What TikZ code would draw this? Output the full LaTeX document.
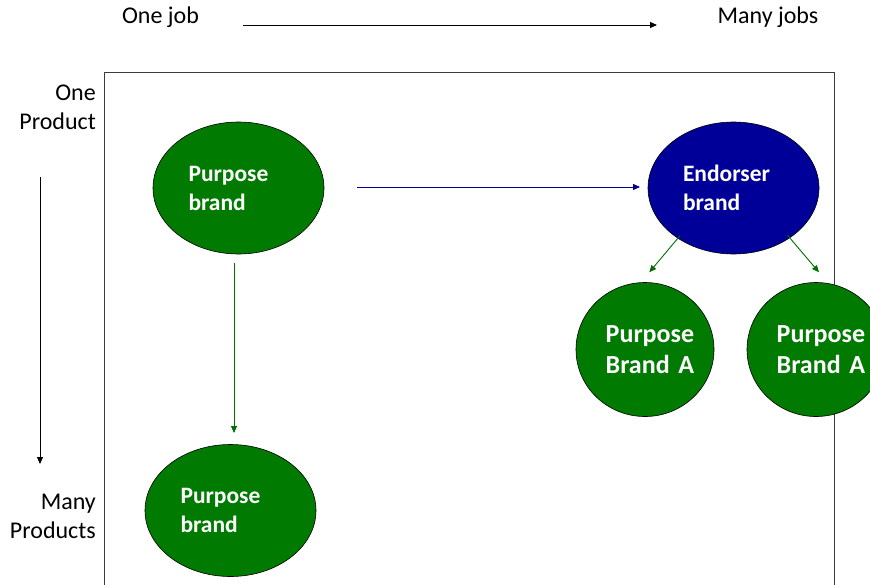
\documentclass[tikz,border=0pt]{standalone}
\usepackage{fontspec}
\setmainfont{Carlito}
\usetikzlibrary{arrows.meta,shapes.geometric,calc}
\definecolor{bgreen}{RGB}{0,122,0}
\definecolor{bblue}{RGB}{0,0,153}
\definecolor{agreen}{RGB}{0,110,0}
\definecolor{ablue}{RGB}{0,0,140}
\definecolor{framec}{RGB}{60,60,60}
\begin{document}
\begin{tikzpicture}[x=1pt,y=-1pt,
  brand/.style={ellipse,draw=black,line width=0.6pt,fill=bgreen,text=white,
    font=\bfseries\fontsize{23.5}{29}\selectfont,minimum width=171pt,minimum height=132pt,
    inner sep=0pt,text width=100pt,align=left},
  smallbrand/.style={ellipse,draw=black,line width=0.6pt,fill=bgreen,text=white,
    font=\bfseries\fontsize{26}{31}\selectfont,minimum width=138pt,minimum height=134pt,
    inner sep=0pt,text width=78.6pt,align=left},
  lab/.style={inner sep=0pt,font=\fontsize{24}{29}\selectfont},
  karrow/.style={draw=black,line width=0.9pt,-{Triangle[length=7pt,width=6pt]}},
  garrow/.style={draw=agreen,line width=0.9pt,-{Triangle[length=7pt,width=6pt]}},
  barrow/.style={draw=ablue,line width=0.9pt,-{Triangle[length=7pt,width=6pt]}}]
\clip (0,0) rectangle (870,584);
% frame
\draw[framec,line width=0.9pt] (104,72) rectangle (834,600);
% axis labels
\node[lab] (onejob) at (160.5,17) {One job};
\node[lab] (manyjobs) at (768,17) {Many jobs};
\node[lab,align=right,anchor=east] (oneprod) at (96,107.5) {One\\Product};
\node[lab,align=right,anchor=east] (manyprod) at (96,516.5) {Many\\Products};
\coordinate (tA) at (243,25);
\coordinate (tB) at (657,25);
\coordinate (lA) at (40,177);
\coordinate (lB) at (40,464);
\draw[karrow] (tA) -- (tB);
\draw[karrow] (lA) -- (lB);
% brands
\node[brand] (p1) at (238.5,188) {Purpose\\brand};
\node[brand,fill=bblue,text width=101pt] (e) at (733.5,188) {Endorser\\brand};
\node[brand] (p2) at (230.5,510.5) {Purpose\\brand};
\node[smallbrand] (c1) at (645,349.5) {Purpose\\\mbox{Brand A}};
\node[smallbrand] (c2) at (816,349.5) {Purpose\\\mbox{Brand A}};
% connectors
\draw[barrow] ($(p1.center)+(118.5,-1)$) -- ($(e.center)+(-93.5,-1)$);
\draw[garrow] ($(p1.center)+(-4.5,75)$) -- ($(p2.center)+(3.5,-77.5)$);
\draw[garrow] ($(e.center)+(-53.5,47.7)$) -- ($(c1.center)+(4.3,-77.2)$);
\draw[garrow] ($(e.center)+(53.8,47)$) -- ($(c2.center)+(3,-77.2)$);
\end{tikzpicture}
\end{document}
